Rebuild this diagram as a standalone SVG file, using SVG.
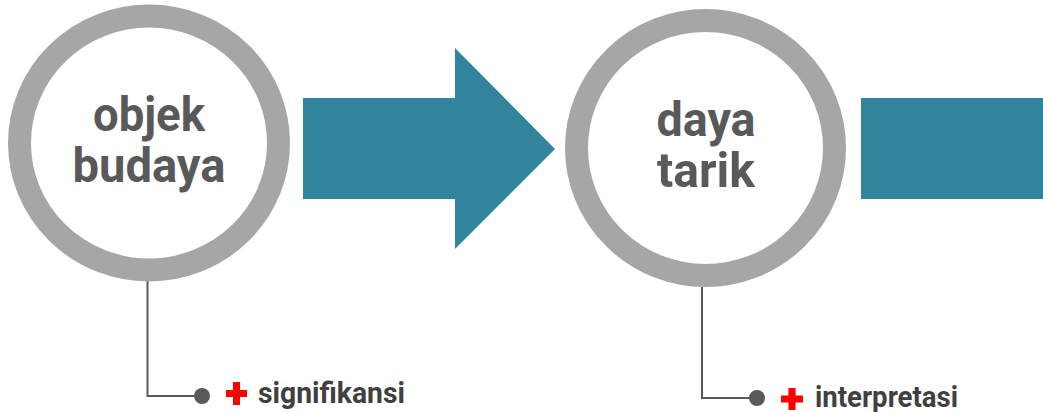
<svg xmlns="http://www.w3.org/2000/svg" width="1043" height="412" viewBox="0 0 1043 412">
  <style>
    .ring { fill: #ffffff; stroke: #a6a6a6; stroke-width: 23; }
    .big { font-family: Roboto, "Liberation Sans", sans-serif; font-weight: bold; font-size: 48px; fill: #595959; }
    .lbl { font-family: Roboto, "Liberation Sans", sans-serif; font-weight: bold; font-size: 29px; fill: #404040; }
    .teal { fill: #31849b; }
    .conn { fill: none; stroke: #595959; stroke-width: 2; }
    .dot { fill: #595959; }
    .plus { fill: #ff0000; }
  </style>
  <g id="arrow1">
    <polygon class="teal" points="303,98 455,98 455,48 555,149 455,249 455,199 303,199"/>
  </g>
  <g id="arrow2">
    <rect class="teal" x="861" y="98" width="182" height="101"/>
  </g>
  <g id="connectors">
    <polyline class="conn" points="147.5,281 147.5,396 202,396"/>
    <circle class="dot" cx="202" cy="396" r="8"/>
    <polyline class="conn" points="702,287 702,398 757,398"/>
    <circle class="dot" cx="757" cy="398" r="8"/>
  </g>
  <g id="node-objek-budaya">
    <ellipse class="ring" cx="149" cy="143" rx="129.5" ry="127"/>
    <text class="big" x="149" y="131" text-anchor="middle" textLength="112" lengthAdjust="spacingAndGlyphs">objek</text>
    <text class="big" x="149" y="182" text-anchor="middle" textLength="153" lengthAdjust="spacingAndGlyphs">budaya</text>
  </g>
  <g id="node-daya-tarik">
    <ellipse class="ring" cx="705.5" cy="148" rx="129" ry="127.5"/>
    <text class="big" x="706" y="136" text-anchor="middle" textLength="99" lengthAdjust="spacingAndGlyphs">daya</text>
    <text class="big" x="706" y="187" text-anchor="middle" textLength="98" lengthAdjust="spacingAndGlyphs">tarik</text>
  </g>
  <g id="label-signifikansi">
    <path class="plus" d="M233,382 h7 v8 h7 v7 h-7 v8 h-7 v-8 h-7 v-7 h7 z"/>
    <text class="lbl" x="258" y="403" textLength="147" lengthAdjust="spacingAndGlyphs">signifikansi</text>
  </g>
  <g id="label-interpretasi">
    <path class="plus" d="M788.5,388 h7 v7.5 h7.5 v7 h-7.5 v7.5 h-7 v-7.5 h-7.5 v-7 h7.5 z"/>
    <text class="lbl" x="815" y="407" textLength="143" lengthAdjust="spacingAndGlyphs">interpretasi</text>
  </g>
</svg>
